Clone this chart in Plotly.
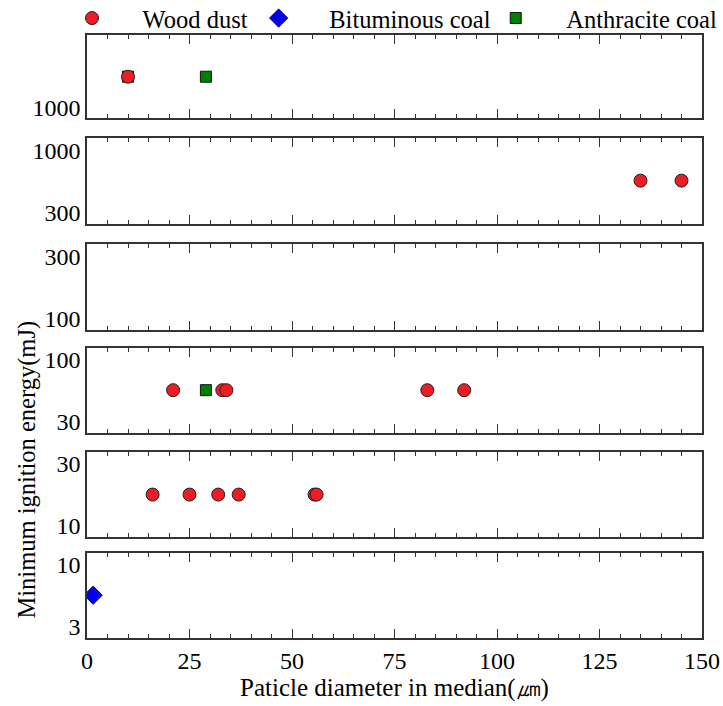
import math
import plotly.graph_objects as go
from plotly.subplots import make_subplots

# ---- data ----
wood_x = [10, 135, 145, 21, 33, 34, 83, 92, 16, 25, 32, 37, 55.5, 56]
wood_y = [1730, 550, 550, 55, 55, 55, 55, 55, 17.3, 17.3, 17.3, 17.3, 17.3, 17.3]
bitum_x = [1.5]
bitum_y = [5.5]
anth_x = [10, 29, 29]
anth_y = [1730, 1730, 55]

# panel bands (top to bottom) of minimum ignition energy, mJ
band_lo = [1000, 300, 100, 30, 10, 3]
band_hi = [3000, 1000, 300, 100, 30, 10]
band_labels_lo = ["1000", "300", "100", "30", "10", "3"]
band_labels_hi = ["", "1000", "300", "100", "30", "10"]
x_ticks = [0, 25, 50, 75, 100, 125, 150]

FONT = "Liberation Serif, Times New Roman, serif"
n = len(band_lo)
NB = "\u00a0"

fig = make_subplots(rows=n, cols=1, shared_xaxes=True)

def band_of(y):
    for i in range(n):
        if band_lo[i] < y < band_hi[i]:
            return i
    return None

series = [
    (NB * 5 + "Anthracite coal", anth_x, anth_y,
     dict(symbol="square", size=11, color="#008000", line=dict(color="#111", width=1)), 3),
    (NB * 5 + "Wood dust" + NB, wood_x, wood_y,
     dict(symbol="circle", size=13, color="#ee1c24", line=dict(color="#222", width=1)), 1),
    (NB * 5 + "Bituminous coal", bitum_x, bitum_y,
     dict(symbol="diamond", size=14, color="#0000ee", line=dict(color="#000080", width=1)), 2),
]

# keep every panel drawn, even the empty one
for i in range(n):
    fig.add_trace(go.Scatter(x=[None], y=[None], mode="markers", showlegend=False,
                             hoverinfo="skip"), row=i + 1, col=1)

for name, xs, ys, mk, rank in series:
    shown = False
    for i in range(n):
        px = [x for x, y in zip(xs, ys) if band_of(y) == i]
        py = [y for x, y in zip(xs, ys) if band_of(y) == i]
        if not px:
            continue
        fig.add_trace(go.Scatter(x=px, y=py, mode="markers", name=name, marker=mk,
                                 legendgroup=name, showlegend=not shown, legendrank=rank),
                      row=i + 1, col=1)
        shown = True

# domains (paper) for the panels, top to bottom
domains = [[0.862, 1.0], [0.687, 0.829], [0.511, 0.653],
           [0.340, 0.481], [0.1675, 0.3085], [0.0, 0.141]]

for i in range(n):
    lo = math.log10(band_lo[i])
    hi = math.log10(band_hi[i])
    span = hi - lo
    tv, tt = [], []
    # labels sit slightly inside the panel, as in the original
    tv.append(10 ** (lo + 0.13 * span)); tt.append(band_labels_lo[i])
    if band_labels_hi[i]:
        tv.append(10 ** (hi - 0.14 * span)); tt.append(band_labels_hi[i])
    yname = "yaxis" if i == 0 else f"yaxis{i+1}"
    xname = "xaxis" if i == 0 else f"xaxis{i+1}"
    fig.layout[yname].update(
        type="log", range=[lo, hi], domain=domains[i],
        tickvals=tv, ticktext=tt, ticks="", showgrid=False, zeroline=False,
        showline=True, mirror=True, linecolor="#333", linewidth=1.5,
        tickfont=dict(family=FONT, size=24, color="black"),
    )
    fig.layout[xname].update(
        range=[0, 150], tickvals=x_ticks, ticks="inside", ticklen=9, tickwidth=1,
        tickcolor="#333", showgrid=False, zeroline=False,
        showline=True, mirror="ticks", linecolor="#333", linewidth=1.5,
        minor=dict(dtick=5, ticks="inside", ticklen=4, tickcolor="#333", tickwidth=1, showgrid=False),
        showticklabels=(i == n - 1),
        tickfont=dict(family=FONT, size=24, color="black"),
    )

fig.layout[f"xaxis{n}"].title = dict(text="Paticle diameter in median(㎛)",
                                      font=dict(family=FONT, size=25, color="black"),
                                      standoff=5)

fig.add_annotation(text="Minimum ignition energy(mJ)", x=-0.097, y=0.28,
                   xref="paper", yref="paper", textangle=-90, showarrow=False,
                   xanchor="center", yanchor="middle",
                   font=dict(family=FONT, size=24.5, color="black"))

fig.update_layout(
    width=723, height=706,
    margin=dict(l=87, r=21, t=35, b=68, autoexpand=False),
    plot_bgcolor="white", paper_bgcolor="white",
    font=dict(family=FONT, size=24, color="black"),
    legend=dict(orientation="h", x=-0.0244, y=1.028, xanchor="left", yanchor="middle",
                itemwidth=30, font=dict(family=FONT, size=24.5, color="black"),
                bgcolor="rgba(0,0,0,0)", tracegroupgap=0),
)

fig.write_html("out.html")
